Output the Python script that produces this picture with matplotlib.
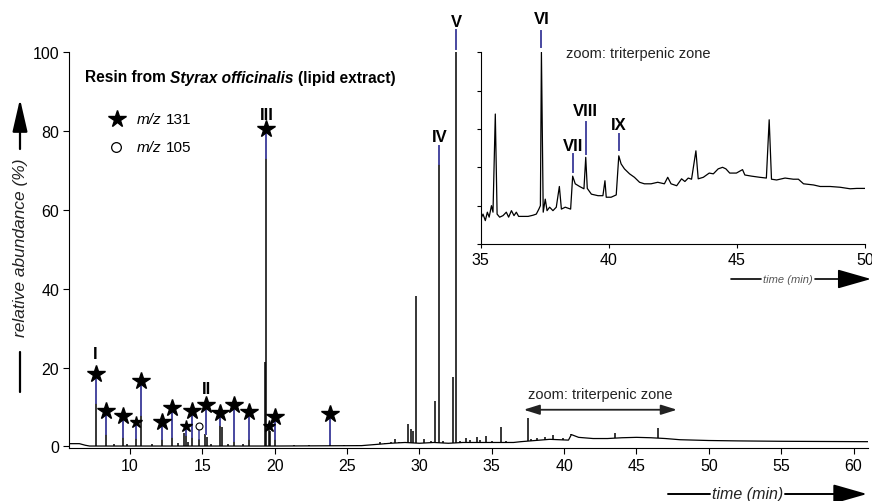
import numpy as np
import matplotlib.pyplot as plt

plt.rcParams['font.family'] = ['Liberation Sans', 'DejaVu Sans']

W, H = 872, 502

# main chromatogram: baseline knots (time, abundance)
base_t = [5.78, 6.5, 6.9, 7.2, 20, 26, 27, 28, 29, 30, 31, 32, 33, 35, 36.5, 37,
          38, 39, 40.3, 40.5, 41, 42, 43, 44, 45, 46, 47, 48, 50, 52, 55, 61.0]
base_y = [0.7, 0.7, 0.3, 0.1, 0.1, 0.2, 0.5, 0.8, 1.0, 0.8, 1.0, 0.8, 1.0, 1.0, 1.0, 1.2,
          1.5, 1.8, 1.6, 3.0, 2.3, 2.0, 2.0, 2.2, 2.3, 2.2, 2.0, 1.7, 1.5, 1.4, 1.3, 1.2]

# peaks (retention time, apex height)
peak_t = [7.62, 8.33, 8.9, 9.53, 9.8, 10.42, 10.74, 11.5, 12.2, 12.9, 13.3, 13.75, 13.84,
          14.0, 14.3, 14.79, 15.2, 15.35, 15.6, 16.2, 16.35, 16.8, 17.17, 17.8, 18.24,
          19.35, 19.42, 19.6, 19.7, 20.05, 21.3, 22.4, 23.8, 24.8, 25.7, 27.3, 27.6, 28.0,
          28.3, 28.6, 29.2, 29.4, 29.55, 29.79, 30.33, 30.8, 31.1, 31.37, 31.6, 32.3, 32.53,
          32.8, 33.2, 33.5, 34.0, 34.2, 34.6, 35.0, 35.65, 36.0, 37.5, 37.7, 38.1, 38.7,
          39.2, 39.9, 40.5, 43.5, 46.46]
peak_h = [11.0, 3.2, 0.5, 2.5, 0.6, 2.2, 8.0, 0.5, 2.0, 2.5, 0.8, 3.5, 3.0,
          1.0, 2.5, 2.0, 3.2, 2.5, 0.7, 5.5, 5.0, 0.6, 1.5, 0.5, 2.0,
          21.4, 73.0, 5.0, 4.0, 2.0, 0.4, 0.3, 0.6, 0.3, 0.4, 1.0, 0.9, 1.2,
          1.8, 1.0, 5.7, 4.4, 4.0, 38.2, 1.8, 1.5, 11.6, 71.6, 1.5, 17.6, 100.0,
          1.5, 2.2, 1.6, 2.4, 1.7, 2.6, 1.4, 4.9, 1.3, 7.3, 2.0, 2.1, 2.5,
          3.0, 2.2, 3.2, 3.5, 4.6]

# m/z 131 stars: time, apex of peak, star level, big/small
star_t = [7.62, 8.33, 9.53, 10.42, 10.74, 12.2, 12.9, 13.84, 14.3, 15.28, 16.2, 17.17,
          18.24, 19.42, 19.63, 20.05, 23.8]
star_top = [11.0, 3.2, 2.5, 2.2, 8.0, 2.0, 2.5, 3.0, 2.5, 3.2, 5.5, 1.5,
            2.0, 73.0, 5.0, 2.0, 0.6]
star_y = [18.4, 8.9, 7.7, 6.2, 16.5, 6.3, 9.7, 5.1, 9.0, 10.4, 8.5, 10.6,
          8.7, 80.4, 5.1, 7.4, 8.3]
star_big = [1, 1, 1, 0, 1, 1, 1, 0, 1, 1, 1, 1, 1, 1, 0, 1, 1]
# m/z 105 circle
circ_t, circ_top, circ_y = 14.79, 2.0, 5.1

# roman labels in main plot: time, label y, blue tick from, to
rom_main = ['I', 'II', 'III', 'IV', 'V']
rom_main_t = [7.62, 15.28, 19.42, 31.37, 32.53]
rom_main_y = [23.5, 14.6, 84.2, 78.7, 107.8]
rom_seg_lo = [None, None, None, 71.6, 100.7]
rom_seg_hi = [None, None, None, 76.1, 105.7]

# inset trace (triterpenic zone)
ins_t = [35.0, 35.09, 35.18, 35.26, 35.33, 35.42, 35.48, 35.57, 35.64, 35.74, 35.87, 36.0,
         36.09, 36.2, 36.3, 36.39, 36.48, 36.65, 36.85, 37.04, 37.17, 37.27, 37.33, 37.37,
         37.44, 37.52, 37.59, 37.69, 37.82, 37.95, 38.07, 38.15, 38.3, 38.51, 38.59, 38.69,
         38.86, 39.03, 39.1, 39.16, 39.32, 39.58, 39.77, 39.85, 39.9, 40.09, 40.29, 40.39,
         40.48, 40.61, 40.81, 41.0, 41.2, 41.39, 41.65, 41.91, 42.17, 42.3, 42.43, 42.65,
         42.84, 42.97, 43.1, 43.23, 43.4, 43.49, 43.69, 43.92, 44.08, 44.27, 44.44, 44.57,
         44.72, 44.98, 45.22, 45.31, 45.57, 45.89, 46.15, 46.26, 46.35, 46.55, 46.88, 47.2,
         47.4, 47.6, 47.99, 48.25, 48.64, 49.03, 49.42, 49.68, 50.0]
ins_y = [0.65, 0.78, 0.61, 0.83, 0.70, 1.0, 0.83, 3.39, 0.78, 0.70, 0.74, 0.83,
         0.70, 0.87, 0.74, 0.83, 0.72, 0.72, 0.72, 0.75, 0.78, 0.91, 1.0, 5.0,
         0.83, 1.17, 0.87, 0.96, 0.87, 0.96, 1.50, 0.91, 0.96, 0.91, 1.77, 1.57,
         1.50, 1.44, 2.26, 1.45, 1.30, 1.26, 1.26, 1.65, 1.22, 1.22, 1.28, 2.30,
         2.09, 1.96, 1.83, 1.74, 1.61, 1.57, 1.57, 1.61, 1.57, 1.74, 1.57, 1.52,
         1.70, 1.63, 1.72, 1.69, 2.43, 1.70, 1.74, 1.85, 1.83, 1.96, 2.0, 1.96,
         1.85, 1.85, 1.94, 1.80, 1.77, 1.74, 1.72, 3.24, 1.69, 1.67, 1.72, 1.69,
         1.69, 1.57, 1.54, 1.50, 1.50, 1.48, 1.44, 1.45, 1.45]
rom_ins = ['VI', 'VII', 'VIII', 'IX']
rom_ins_t = [37.37, 38.59, 39.1, 40.39]
rom_ins_y = [5.87, 2.57, 3.48, 3.11]
rom_ins_lo = [5.13, 1.87, 2.35, 2.44]
rom_ins_hi = [5.56, 2.35, 3.18, 2.87]

blue = '#4848a0'

fig = plt.figure(figsize=(W / 100, H / 100), dpi=100)
ax = fig.add_axes([69 / W, (H - 449) / H, (868 - 69) / W, (449 - 53) / H])

ax.plot(base_t, base_y, color='black', lw=0.9)
pb = np.interp(peak_t, base_t, base_y)
ax.vlines(peak_t, pb, peak_h, color='black', lw=1.1)

for t, top, y, big in zip(star_t, star_top, star_y, star_big):
    ax.plot([t, t], [top, y], color=blue, lw=1.4, clip_on=False)
    ax.plot(t, y, marker='*', ms=13 if big else 9, color='black', mec='black',
            clip_on=False, zorder=5)
ax.plot([circ_t, circ_t], [circ_top, circ_y], color=blue, lw=1.2)
ax.plot(circ_t, circ_y, marker='o', ms=5, mfc='white', mec='black', mew=0.8, zorder=5)

for lab, t, y, lo, hi in zip(rom_main, rom_main_t, rom_main_y, rom_seg_lo, rom_seg_hi):
    if lo is not None:
        ax.plot([t, t], [lo, hi], color=blue, lw=1.4, clip_on=False)
    ax.text(t, y, lab, ha='center', va='center', fontsize=12, fontweight='bold',
            clip_on=False)

ax.annotate('', xy=(37.2, 9.3), xytext=(47.8, 9.3),
            arrowprops=dict(arrowstyle='<|-|>,head_length=0.8,head_width=0.25',
                            color='#222222', lw=1.3, shrinkA=0, shrinkB=0,
                            mutation_scale=12))
ax.text(42.5, 13.3, 'zoom: triterpenic zone', ha='center', va='center',
        fontsize=10.5, color='#222222')

ax.set_xlim(5.78, 61.0)
ax.set_ylim(-0.4, 100)
ax.set_xticks([10, 15, 20, 25, 30, 35, 40, 45, 50, 55, 60])
ax.set_yticks([0, 20, 40, 60, 80, 100])
ax.spines['top'].set_visible(False)
ax.spines['right'].set_visible(False)
ax.tick_params(direction='out', length=4, labelsize=11.5, pad=3)
ax.patch.set_alpha(0)

# inset
ins = fig.add_axes([480.7 / W, (H - 245) / H, (865 - 480.7) / W, (245 - 53.3) / H])
ins.plot(ins_t, ins_y, color='black', lw=0.9)
for lab, t, y, lo, hi in zip(rom_ins, rom_ins_t, rom_ins_y, rom_ins_lo, rom_ins_hi):
    ins.plot([t, t], [lo, hi], color=blue, lw=1.4, clip_on=False)
    ins.text(t, y, lab, ha='center', va='center', fontsize=12, fontweight='bold',
             clip_on=False)
ins.text(38.33, 4.97, 'zoom: triterpenic zone', ha='left', va='center',
         fontsize=10.5, color='#222222')
ins.set_xlim(35, 50)
ins.set_ylim(0, 5)
ins.set_xticks([35, 40, 45, 50])
ins.set_yticks([0, 1, 2, 3, 4, 5])
ins.set_yticklabels([])
ins.spines['top'].set_visible(False)
ins.spines['right'].set_visible(False)
ins.tick_params(direction='out', length=3, labelsize=11.5, pad=3)


def arrow_line(x0, y0, x1, y1, head, lw=1.3, hl=1.05, hw=0.3):
    ax.annotate('', xy=(x1, H - y1), xytext=(x0, H - y0), xycoords='figure pixels',
                textcoords='figure pixels', annotation_clip=False,
                arrowprops=dict(arrowstyle=('-|>,head_length=%g,head_width=%g' % (hl, hw))
                                if head else '-', color='black', lw=lw,
                                shrinkA=0, shrinkB=0, mutation_scale=20))


# y label with arrow
fig.text(20 / W, 1 - 248 / H, 'relative abundance (%)', rotation=90, style='italic',
         fontsize=12.5, ha='center', va='center', color='#222222')
arrow_line(20, 393, 20, 353, False, lw=1.6)
arrow_line(20, 150, 20, 100, True, lw=1.6, hl=1.0, hw=0.23)

# main x label with arrow
fig.text(748 / W, 1 - 495 / H, 'time (min)', style='italic', fontsize=11.5,
         ha='center', va='center', color='#222222')
arrow_line(668, 495, 710, 495, False, lw=1.4)
arrow_line(785, 495, 867, 495, True, lw=1.4)

# inset x label with arrow
fig.text(788 / W, 1 - 280 / H, 'time (min)', style='italic', fontsize=8,
         ha='center', va='center', color='#555555')
arrow_line(731, 280, 761, 280, False, lw=1.2)
arrow_line(815, 280, 871, 280, True, lw=1.2)

# title and legend built from text runs
renderer = fig.canvas.get_renderer()


def text_run(x_px, y_px, parts, size):
    gap = 0.278 * size * 100 / 72
    for s, kw in parts:
        t = fig.text(x_px / W, 1 - y_px / H, s, fontsize=size, ha='left', va='center', **kw)
        x_px += t.get_window_extent(renderer).width + gap


text_run(85, 78, [('Resin from', dict(fontweight='bold')),
                  ('Styrax officinalis', dict(fontweight='bold', style='italic')),
                  ('(lipid extract)', dict(fontweight='bold'))], 11.2)
fig.lines.append(plt.Line2D([117 / W], [1 - 120 / H], marker='*', ms=13, color='black',
                            transform=fig.transFigure))
fig.lines.append(plt.Line2D([116 / W], [1 - 148 / H], marker='o', ms=7, mfc='white',
                            mec='black', mew=0.9, transform=fig.transFigure))
text_run(137, 120, [('m/z', dict(style='italic')), ('131', {})], 11)
text_run(137, 148, [('m/z', dict(style='italic')), ('105', {})], 11)

fig.savefig('out.png', dpi=100)
